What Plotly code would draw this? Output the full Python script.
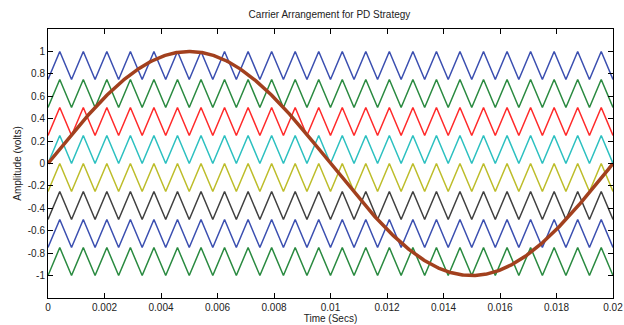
import numpy as np
import plotly.graph_objects as go

# ---- data ----
carrier_bases = [0.75, 0.5, 0.25, 0.0, -0.25, -0.5, -0.75, -1.0]
carrier_height = 0.25
carrier_freq = 1200.0          # Hz (24 cycles in 0.02 s)
ref_amp = 1.0
ref_freq = 50.0                # Hz
t_end = 0.02
x_ticks = [0, 0.002, 0.004, 0.006, 0.008, 0.01, 0.012, 0.014, 0.016, 0.018, 0.02]
x_tick_text = ["0", "0.002", "0.004", "0.006", "0.008", "0.01", "0.012", "0.014", "0.016", "0.018", "0.02"]
y_ticks = [-1, -0.8, -0.6, -0.4, -0.2, 0, 0.2, 0.4, 0.6, 0.8, 1]
y_tick_text = ["-1", "-0.8", "-0.6", "-0.4", "-0.2", "0", "0.2", "0.4", "0.6", "0.8", "1"]

carrier_colors = ["#3B4FB0", "#2A8A40", "#FF2A2A", "#2CC0C0",
                  "#BDBD2A", "#404040", "#3B4FB0", "#2A8A40"]
ref_color = "#A2401E"

fig = go.Figure()

n_half = int(round(2 * carrier_freq * t_end))
t_vert = np.arange(n_half + 1) / (2 * carrier_freq)
tri = np.where(np.arange(n_half + 1) % 2 == 0, 0.0, 1.0)

for base, col in zip(carrier_bases, carrier_colors):
    fig.add_trace(go.Scatter(x=t_vert, y=base + carrier_height * tri,
                             mode="lines", line=dict(color=col, width=1.5),
                             showlegend=False, hoverinfo="skip"))

t_ref = np.linspace(0, t_end, 801)
fig.add_trace(go.Scatter(x=t_ref, y=ref_amp * np.sin(2 * np.pi * ref_freq * t_ref),
                         mode="lines", line=dict(color=ref_color, width=3.5),
                         showlegend=False, hoverinfo="skip"))

font = dict(family="Liberation Sans, Arial, sans-serif", size=10, color="#222222")
axis_common = dict(showgrid=False, zeroline=False, showline=True, linecolor="#000000",
                   linewidth=1, mirror="ticks", ticks="inside", ticklen=5,
                   tickcolor="#000000", tickfont=font, automargin=False)

fig.update_layout(
    width=624, height=325,
    margin=dict(l=48, r=11, t=29, b=27, autoexpand=False),
    paper_bgcolor="white", plot_bgcolor="white",
    title=dict(text="Carrier Arrangement for PD Strategy", x=0.528, xanchor="center",
               y=0.955, yanchor="middle", font=dict(family=font["family"], size=10, color="#222222")),
    xaxis=dict(range=[0, t_end], tickvals=x_ticks, ticktext=x_tick_text,
               title=dict(text="Time (Secs)", font=font, standoff=2), **axis_common),
    yaxis=dict(range=[-1.2, 1.2], tickvals=y_ticks, ticktext=y_tick_text,
               title=dict(text="Amplitude (volts)", font=font, standoff=4), **axis_common),
)

fig.write_html("out.html", config={"displayModeBar": False},
               post_script="document.body.style.margin='0';document.body.style.overflow='hidden';")
